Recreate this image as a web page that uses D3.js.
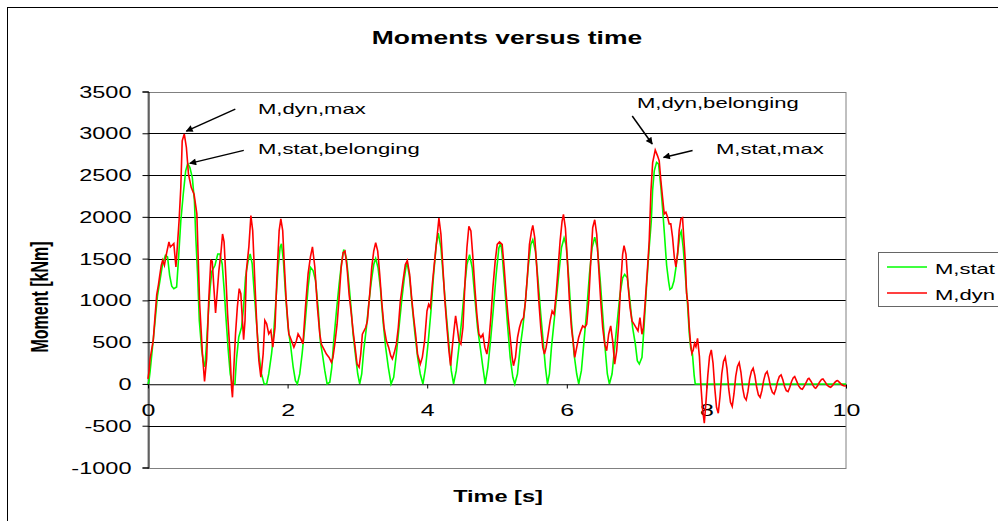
<!DOCTYPE html>
<html>
<head>
<meta charset="utf-8">
<script src="https://cdn.jsdelivr.net/npm/d3@7"></script>
<style>
  html, body { margin: 0; padding: 0; background: #fff; }
  svg { display: block; font-family: "Liberation Sans", Arial, sans-serif; }
</style>
</head>
<body>
<svg id="chart" width="998" height="521"></svg>
<script>
// ---- data -------------------------------------------------------------
const yTicks = [-1000, -500, 0, 500, 1000, 1500, 2000, 2500, 3000, 3500];
const xTicks = [0, 2, 4, 6, 8, 10];
const seriesNames = ["M,stat", "M,dyn"];

// static moment M,stat [kNm] over time [s]
const statTime = [
  0.00, 0.014, 0.03, 0.06, 0.10, 0.135, 0.17, 0.21, 0.25, 0.28, 0.31, 0.34, 0.37, 0.41, 0.435, 0.47,
  0.505, 0.54, 0.57, 0.60, 0.635, 0.665, 0.685, 0.71, 0.735, 0.77, 0.795, 0.815, 0.84, 0.865, 0.89,
  0.915, 0.96, 1.00, 1.03, 1.063, 1.092, 1.12, 1.15, 1.178, 1.206, 1.245, 1.268, 1.30, 1.34, 1.369,
  1.397, 1.435, 1.464, 1.493, 1.52, 1.56, 1.588, 1.626, 1.664, 1.70, 1.73, 1.77, 1.80, 1.826, 1.865,
  1.893, 1.912, 1.94, 1.97, 2.007, 2.046, 2.08, 2.112, 2.14, 2.174, 2.208, 2.246, 2.294, 2.327,
  2.365, 2.40, 2.437, 2.47, 2.499, 2.533, 2.566, 2.604, 2.633, 2.661, 2.70, 2.738, 2.776, 2.804,
  2.842, 2.871, 2.909, 2.938, 2.976, 3.005, 3.033, 3.062, 3.09, 3.129, 3.167, 3.20, 3.234, 3.262,
  3.296, 3.329, 3.367, 3.405, 3.443, 3.482, 3.52, 3.558, 3.596, 3.634, 3.672, 3.71, 3.748, 3.787,
  3.825, 3.863, 3.901, 3.939, 3.977, 4.016, 4.054, 4.092, 4.13, 4.159, 4.197, 4.235, 4.273, 4.311,
  4.345, 4.378, 4.416, 4.454, 4.493, 4.531, 4.569, 4.607, 4.645, 4.683, 4.721, 4.76, 4.798, 4.831,
  4.869, 4.907, 4.945, 4.988, 5.027, 5.055, 5.074, 5.112, 5.15, 5.189, 5.227, 5.255, 5.293, 5.332,
  5.37, 5.408, 5.446, 5.484, 5.513, 5.551, 5.589, 5.627, 5.665, 5.694, 5.723, 5.751, 5.78, 5.809,
  5.847, 5.885, 5.923, 5.961, 5.99, 6.028, 6.066, 6.104, 6.142, 6.171, 6.209, 6.247, 6.285, 6.324,
  6.362, 6.40, 6.438, 6.476, 6.514, 6.552, 6.581, 6.61, 6.648, 6.686, 6.724, 6.762, 6.80, 6.829,
  6.867, 6.905, 6.943, 6.982, 7.01, 7.039, 7.077, 7.106, 7.144, 7.182, 7.21, 7.229, 7.253, 7.286,
  7.315, 7.348, 7.372, 7.40, 7.43, 7.458, 7.477, 7.506, 7.535, 7.563, 7.592, 7.62, 7.64, 7.668,
  7.697, 7.73, 7.755, 7.775, 7.80, 7.825, 7.84, 10.0
];
const statMoment = [
  0, 40, 150, 400, 740, 1050, 1230, 1440, 1540, 1520, 1300, 1170, 1140, 1160, 1470, 1950,
  2270, 2550, 2640, 2590, 2470, 2190, 1750, 1320, 760, 400, 260, 205, 500, 850, 1150,
  1350, 1420, 1556, 1556, 1436, 1117, 758, 399, 120, 0, 0, 300, 560, 678, 918,
  1277, 1476, 1556, 1436, 1117, 678, 359, 120, 0, 0, 120, 359, 599, 918, 1396,
  1636, 1676, 1476, 1077, 678, 439, 200, 40, 0, 120, 359, 678, 1157, 1396,
  1357, 1237, 918, 500, 357, 159, 0, 20, 199, 516, 873, 1191, 1469, 1608,
  1509, 1270, 913, 596, 318, 119, 0, 119, 397, 675, 993, 1231, 1429, 1500,
  1390, 1151, 754, 437, 199, 0, 79, 357, 675, 993, 1270, 1469, 1270, 913,
  596, 318, 119, 0, 199, 516, 873, 1310, 1667, 1806, 1628, 1231, 834, 476,
  159, 0, 159, 437, 754, 1112, 1429, 1548, 1390, 1032, 675, 437, 199, 0,
  199, 516, 873, 1310, 1628, 1687, 1548, 1151, 715, 318, 79, 0, 119, 437,
  675, 993, 1390, 1667, 1727, 1588, 1231, 834, 476, 199, 0, 119, 437, 675,
  993, 1310, 1628, 1747, 1667, 1270, 754, 357, 119, 0, 159, 516, 873, 1310,
  1628, 1755, 1628, 1270, 834, 397, 119, 0, 119, 437, 754, 1072, 1270, 1310,
  1270, 993, 675, 476, 278, 238, 318, 675, 1191, 1650, 1945, 2313, 2551, 2651,
  2631, 2353, 2100, 1780, 1420, 1231, 1130, 1151, 1231, 1390, 1588, 1786, 1826, 1628,
  1310, 950, 600, 430, 360, 100, 0, 0
];

// dynamic moment M,dyn [kNm] over time [s]
const dynTime = [
  0.00, 0.015, 0.03, 0.05, 0.075, 0.10, 0.125, 0.15, 0.17, 0.19, 0.21, 0.235, 0.265, 0.30, 0.32,
  0.345, 0.37, 0.40, 0.42, 0.445, 0.47, 0.49, 0.52, 0.55, 0.58, 0.62, 0.66, 0.70, 0.72, 0.74, 0.78,
  0.81, 0.84, 0.87, 0.90, 0.92, 0.944, 0.968, 0.99, 1.016, 1.044, 1.068, 1.09, 1.116, 1.14, 1.173,
  1.197, 1.21, 1.235, 1.254, 1.28, 1.307, 1.33, 1.35, 1.37, 1.39, 1.41, 1.445, 1.474, 1.50, 1.53,
  1.56, 1.588, 1.617, 1.65, 1.674, 1.70, 1.73, 1.76, 1.788, 1.82, 1.845, 1.879, 1.903, 1.93, 1.95,
  1.98, 2.017, 2.055, 2.09, 2.127, 2.15, 2.19, 2.22, 2.256, 2.294, 2.327, 2.356, 2.39, 2.427, 2.461,
  2.485, 2.518, 2.556, 2.594, 2.628, 2.65, 2.676, 2.709, 2.738, 2.767, 2.795, 2.823, 2.852, 2.881,
  2.914, 2.938, 2.967, 2.995, 3.024, 3.048, 3.071, 3.095, 3.119, 3.143, 3.176, 3.205, 3.234, 3.262,
  3.291, 3.32, 3.348, 3.382, 3.415, 3.448, 3.477, 3.501, 3.53, 3.558, 3.586, 3.615, 3.653, 3.687,
  3.715, 3.749, 3.777, 3.806, 3.834, 3.862, 3.901, 3.93, 3.963, 3.997, 4.021, 4.045, 4.073, 4.106,
  4.14, 4.168, 4.197, 4.225, 4.254, 4.283, 4.311, 4.335, 4.359, 4.383, 4.407, 4.431, 4.455, 4.483,
  4.512, 4.54, 4.569, 4.597, 4.626, 4.655, 4.683, 4.712, 4.741, 4.769, 4.798, 4.826, 4.855, 4.884,
  4.912, 4.941, 4.974, 5.003, 5.036, 5.074, 5.103, 5.131, 5.16, 5.189, 5.217, 5.236, 5.265, 5.294,
  5.322, 5.35, 5.38, 5.408, 5.437, 5.465, 5.494, 5.513, 5.541, 5.57, 5.599, 5.627, 5.656, 5.68,
  5.704, 5.733, 5.761, 5.79, 5.818, 5.847, 5.876, 5.904, 5.932, 5.952, 5.98, 6.009, 6.038, 6.066,
  6.095, 6.114, 6.142, 6.17, 6.20, 6.228, 6.257, 6.285, 6.314, 6.343, 6.371, 6.40, 6.429, 6.457,
  6.486, 6.514, 6.543, 6.571, 6.60, 6.629, 6.657, 6.686, 6.715, 6.743, 6.772, 6.80, 6.82, 6.848,
  6.877, 6.906, 6.934, 6.963, 6.992, 7.02, 7.048, 7.077, 7.096, 7.125, 7.15, 7.18, 7.205, 7.23,
  7.267, 7.30, 7.324, 7.348, 7.372, 7.396, 7.42, 7.444, 7.467, 7.49, 7.515, 7.54, 7.563, 7.587,
  7.61, 7.634, 7.658, 7.678, 7.697, 7.716, 7.735, 7.754, 7.773, 7.792, 7.811, 7.83, 7.85, 7.873,
  7.90, 7.92, 7.945, 7.97, 7.995, 8.02, 8.045, 8.07, 8.095, 8.12, 8.145, 8.17, 8.195, 8.22, 8.245,
  8.27, 8.295, 8.32, 8.345, 8.37, 8.395, 8.42, 8.445, 8.47, 8.495, 8.52, 8.545, 8.57, 8.595, 8.62,
  8.645, 8.67, 8.695, 8.72, 8.745, 8.77, 8.795, 8.82, 8.845, 8.87, 8.895, 8.92, 8.945, 8.97, 8.995,
  9.02, 9.045, 9.07, 9.095, 9.12, 9.145, 9.17, 9.195, 9.22, 9.245, 9.265, 9.29, 9.32, 9.35, 9.375,
  9.40, 9.43, 9.455, 9.47, 9.50, 9.53, 9.55, 9.566, 9.59, 9.62, 9.65, 9.67, 9.70, 9.73, 9.76, 9.78,
  9.81, 9.84, 9.865, 9.88, 9.91, 9.94, 9.965, 9.985, 10.0
];
const dynMoment = [
  60, 150, 300, 400, 520, 800, 1070, 1190, 1310, 1420, 1480, 1420, 1560, 1700, 1640,
  1660, 1680, 1400, 1640, 1950, 2350, 2910, 2990, 2830, 2510, 2350, 2270, 2035, 1480, 960, 360,
  30, 300, 1000, 1480, 1470, 1150, 850, 1080, 1360, 1560, 1795, 1700, 1275, 840, 400,
  -40, -160, 280, 600, 920, 1140, 1080, 800, 530, 760, 1360, 1640, 2015, 1835, 1240,
  680, 280, 80, 360, 760, 720, 600, 640, 440, 680, 1240, 1835, 1975, 1835, 1475,
  1000, 600, 520, 440, 520, 600, 540, 480, 920, 1320, 1520, 1640, 1400, 920, 600,
  475, 420, 357, 318, 258, 318, 476, 715, 1030, 1390, 1570, 1590, 1390, 1070,
  830, 635, 437, 238, 200, 357, 595, 635, 675, 755, 1070, 1390, 1590, 1690,
  1590, 1310, 990, 675, 516, 437, 338, 300, 378, 476, 675, 990, 1230, 1430,
  1477, 1310, 1030, 795, 595, 357, 238, 318, 516, 873, 953, 913, 1190, 1470,
  1750, 1985, 1790, 1390, 990, 675, 397, 218, 437, 635, 814, 675, 516, 476,
  675, 1190, 1630, 1886, 1830, 1510, 1150, 830, 595, 556, 595, 437, 357, 516,
  794, 1150, 1470, 1670, 1700, 1670, 1390, 1070, 794, 556, 318, 218, 318, 556,
  675, 755, 794, 993, 1310, 1670, 1830, 1898, 1750, 1390, 993, 675, 437, 357,
  437, 595, 755, 873, 833, 1070, 1390, 1710, 1945, 2030, 1865, 1470, 993, 675,
  476, 318, 437, 556, 635, 695, 675, 715, 993, 1470, 1870, 1965, 1790, 1390,
  993, 675, 476, 397, 595, 695, 516, 238, 397, 715, 1190, 1550, 1655, 1550,
  1190, 913, 755, 715, 675, 635, 794, 595, 675, 1000, 1300, 1700, 2300, 2650,
  2800, 2730, 2670, 2430, 2230, 2035, 2055, 1996, 1916, 1916, 1757, 1519, 1400, 1559,
  1837, 1976, 1990, 1720, 1480, 1083, 963, 685, 485, 366, 406, 485, 446, 545,
  330, 0, -300, -470, -200, 100, 330, 408, 250, -50, -280, -350, -150, 120, 270,
  320, 180, -60, -220, -270, -120, 90, 210, 256, 140, -50, -160, -192, -90, 60,
  150, 188, 100, -40, -130, -160, -80, 40, 120, 148, 70, -40, -100, -120, -60,
  30, 90, 108, 50, -30, -80, -92, -40, 30, 75, 88, 40, -20, -55, -64,
  -30, 20, 60, 68, 30, -20, -45, -52, -25, 20, 55, 60, 25, -15, -35, -40,
  -15, 20, 38, 40, 15, -10, -22, -24, -20
];

// ---- layout -------------------------------------------------------------
const SX = 1.47;            // horizontal text stretch of this chart sheet
const plot = { left: 148, right: 846, top: 91.5, bottom: 467.5 };

const svg = d3.select("#chart");
const x = d3.scaleLinear().domain([0, 10]).range([plot.left, plot.right]);
const y = d3.scaleLinear().domain([-1000, 3500]).range([plot.bottom, plot.top]);

function label(parent, px, py, str, size, weight, anchor) {
  return parent.append("text")
    .attr("transform", `translate(${px},${py}) scale(${SX},1)`)
    .attr("text-anchor", anchor || "start")
    .style("font-size", size + "px")
    .style("font-weight", weight || "normal")
    .attr("fill", "#000")
    .text(str);
}

// chart area frame
svg.append("rect").attr("x", 0).attr("y", 0).attr("width", 998).attr("height", 521).attr("fill", "#fff");
svg.append("rect")
  .attr("x", 7.5).attr("y", 7.5).attr("width", 1100).attr("height", 600)
  .attr("fill", "none").attr("stroke", "#000").attr("stroke-width", 1);

// title
label(svg, 507, 44, "Moments versus time", 18, "bold", "middle");

// horizontal gridlines
svg.append("g").selectAll("line")
  .data(yTicks.filter(v => v > -1000 && v < 3500))
  .join("line")
  .attr("x1", plot.left).attr("x2", plot.right)
  .attr("y1", d => Math.round(y(d)) + 0.5).attr("y2", d => Math.round(y(d)) + 0.5)
  .attr("stroke", "#000").attr("stroke-width", 1);

// plot frame
svg.append("rect")
  .attr("x", plot.left).attr("y", Math.round(plot.top) + 0.5)
  .attr("width", plot.right - plot.left).attr("height", Math.round(plot.bottom) - Math.round(plot.top))
  .attr("fill", "none").attr("stroke", "#808080").attr("stroke-width", 1);

// y axis
const yAxis = svg.append("g")
  .attr("transform", `translate(${plot.left + 0.5},0)`)
  .call(d3.axisLeft(y).tickValues(yTicks).tickSize(6).tickFormat(d => String(d)));
yAxis.select(".domain").attr("stroke", "#000");
yAxis.selectAll(".tick line").attr("stroke", "#000");
yAxis.selectAll(".tick text")
  .attr("x", null).attr("dy", "0.35em")
  .attr("transform", `translate(-17,0) scale(${SX},1)`)
  .style("font-size", "16px").style("font-family", "'Liberation Sans', Arial, sans-serif")
  .attr("fill", "#000");

// x axis, crossing at zero
const xAxis = svg.append("g")
  .attr("transform", `translate(0,${Math.round(y(0)) + 0.5})`)
  .call(d3.axisBottom(x).tickValues(xTicks).tickSize(4).tickFormat(d => String(d)));
xAxis.select(".domain").attr("stroke", "#808080");
xAxis.selectAll(".tick line").attr("stroke", "#000");
xAxis.selectAll(".tick text")
  .attr("y", null).attr("dy", null)
  .attr("transform", `translate(0,31) scale(${SX},1)`)
  .style("font-size", "17px").style("font-family", "'Liberation Sans', Arial, sans-serif")
  .attr("fill", "#000");

// axis titles
label(svg, 498, 502, "Time  [s]", 16, "bold", "middle");
svg.append("text")
  .attr("transform", `translate(48,297) scale(${SX},1) rotate(-90)`)
  .attr("text-anchor", "middle")
  .style("font-size", "16px").style("font-weight", "bold")
  .text("Moment [kNm]");

// series
const statData = statTime.map((t, i) => [t, statMoment[i]]);
const dynData = dynTime.map((t, i) => [t, dynMoment[i]]);
const line = d3.line().x(d => x(d[0])).y(d => y(d[1]));
const colors = ["#00ff00", "#ff0000"];

svg.append("path").datum(statData)
  .attr("d", line).attr("fill", "none").attr("stroke", colors[0])
  .attr("stroke-width", 1.6).attr("stroke-linejoin", "miter");
svg.append("path").datum(dynData)
  .attr("d", line).attr("fill", "none").attr("stroke", colors[1])
  .attr("stroke-width", 1.6).attr("stroke-linejoin", "miter");

// annotations with arrows
svg.append("defs").append("marker")
  .attr("id", "arrow").attr("viewBox", "0 0 10 10")
  .attr("refX", 9).attr("refY", 5)
  .attr("markerWidth", 9).attr("markerHeight", 7)
  .attr("markerUnits", "userSpaceOnUse")
  .attr("orient", "auto")
  .append("path").attr("d", "M0,0 L10,5 L0,10 z").attr("fill", "#000");

function peak(times, values, t0, t1) {
  let best = null;
  times.forEach((t, i) => {
    if (t >= t0 && t <= t1 && (best === null || values[i] > values[best])) best = i;
  });
  return [times[best], values[best]];
}

const notes = [
  { text: "M,dyn,max",        at: peak(dynTime, dynMoment, 0, 1),      tip: [2, -3],  tail: [51, -25], pos: [258, 114] },
  { text: "M,stat,belonging", at: peak(statTime, statMoment, 0, 1),    tip: [2, 0],   tail: [56, -13], pos: [258, 154] },
  { text: "M,dyn,belonging",  at: peak(dynTime, dynMoment, 7, 7.5),    tip: [-3, -6], tail: [-23, -34], pos: [637, 108] },
  { text: "M,stat,max",       at: peak(statTime, statMoment, 0, 10),   tip: [7, -5],  tail: [36, -12], pos: [716, 154] }
];

notes.forEach(n => {
  const px = x(n.at[0]), py = y(n.at[1]);
  svg.append("line")
    .attr("x1", px + n.tail[0]).attr("y1", py + n.tail[1])
    .attr("x2", px + n.tip[0]).attr("y2", py + n.tip[1])
    .attr("stroke", "#000").attr("stroke-width", 1.5)
    .attr("marker-end", "url(#arrow)");
  label(svg, n.pos[0], n.pos[1], n.text, 15, "normal", "start");
});

// legend
const lg = svg.append("g");
lg.append("rect")
  .attr("x", 878.5).attr("y", 252.5).attr("width", 200).attr("height", 54)
  .attr("fill", "#fff").attr("stroke", "#666").attr("stroke-width", 1);
seriesNames.forEach((name, i) => {
  const ly = 267 + i * 26;
  lg.append("line")
    .attr("x1", 887).attr("x2", 927).attr("y1", ly).attr("y2", ly)
    .attr("stroke", colors[i]).attr("stroke-width", 1.5);
  label(lg, 935, ly + 7, name, 15, "normal", "start");
});
</script>
</body>
</html>
